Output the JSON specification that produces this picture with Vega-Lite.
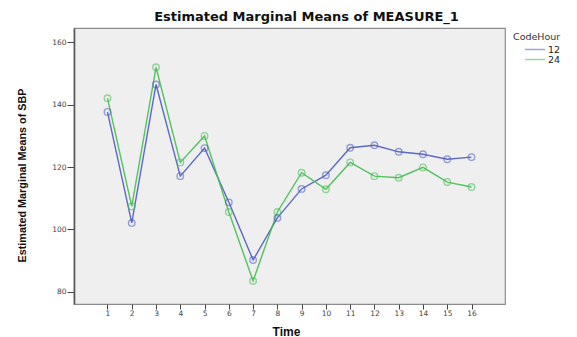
{
  "$schema": "https://vega.github.io/schema/vega-lite/v6.json",
  "width": 431,
  "height": 276,
  "autosize": {"type": "none"},
  "padding": {"left": 74, "top": 28, "right": 72, "bottom": 33},
  "background": "white",
  "config": {
    "view": {"fill": "#efefef", "stroke": "#8c8c8c", "strokeWidth": 1.2},
    "font": "Liberation Sans"
  },
  "title": {
    "text": "Estimated Marginal Means of MEASURE_1",
    "font": "DejaVu Sans",
    "fontSize": 13,
    "fontWeight": "bold",
    "color": "#111",
    "anchor": "middle",
    "frame": "group",
    "dx": 17,
    "offset": 4
  },
  "data": {
    "values": [
      {"Time": 1, "CodeHour": "12", "SBP": 137.7},
      {"Time": 2, "CodeHour": "12", "SBP": 102.1},
      {"Time": 3, "CodeHour": "12", "SBP": 146.5},
      {"Time": 4, "CodeHour": "12", "SBP": 117.1},
      {"Time": 5, "CodeHour": "12", "SBP": 126.1},
      {"Time": 6, "CodeHour": "12", "SBP": 108.7},
      {"Time": 7, "CodeHour": "12", "SBP": 90.2},
      {"Time": 8, "CodeHour": "12", "SBP": 103.7},
      {"Time": 9, "CodeHour": "12", "SBP": 113.0},
      {"Time": 10, "CodeHour": "12", "SBP": 117.4},
      {"Time": 11, "CodeHour": "12", "SBP": 126.2},
      {"Time": 12, "CodeHour": "12", "SBP": 127.0},
      {"Time": 13, "CodeHour": "12", "SBP": 124.9},
      {"Time": 14, "CodeHour": "12", "SBP": 124.1},
      {"Time": 15, "CodeHour": "12", "SBP": 122.5},
      {"Time": 16, "CodeHour": "12", "SBP": 123.2},
      {"Time": 1, "CodeHour": "24", "SBP": 142.1},
      {"Time": 2, "CodeHour": "24", "SBP": 107.4},
      {"Time": 3, "CodeHour": "24", "SBP": 152.0},
      {"Time": 4, "CodeHour": "24", "SBP": 121.5},
      {"Time": 5, "CodeHour": "24", "SBP": 130.0},
      {"Time": 6, "CodeHour": "24", "SBP": 105.6},
      {"Time": 7, "CodeHour": "24", "SBP": 83.5},
      {"Time": 8, "CodeHour": "24", "SBP": 105.6},
      {"Time": 9, "CodeHour": "24", "SBP": 118.2},
      {"Time": 10, "CodeHour": "24", "SBP": 112.9},
      {"Time": 11, "CodeHour": "24", "SBP": 121.5},
      {"Time": 12, "CodeHour": "24", "SBP": 117.1},
      {"Time": 13, "CodeHour": "24", "SBP": 116.6},
      {"Time": 14, "CodeHour": "24", "SBP": 119.9},
      {"Time": 15, "CodeHour": "24", "SBP": 115.2},
      {"Time": 16, "CodeHour": "24", "SBP": 113.6}
    ]
  },
  "encoding": {
    "x": {
      "field": "Time",
      "type": "quantitative",
      "scale": {"domain": [-0.38, 17.38], "nice": false, "zero": false},
      "axis": {
        "values": [1,2,3,4,5,6,7,8,9,10,11,12,13,14,15,16],
        "grid": false,
        "domain": false,
        "tickSize": 5,
        "tickColor": "#444",
        "labelFont": "DejaVu Sans",
        "labelFontSize": 7.5,
        "labelColor": "#444",
        "labelPadding": 0,
        "title": "Time",
        "titleFontSize": 12,
        "titleFontWeight": "bold",
        "titleColor": "#111",
        "titleX": 212,
        "titleY": 27,
        "titleBaseline": "middle",
        "titleAlign": "center"
      }
    },
    "y": {
      "field": "SBP",
      "type": "quantitative",
      "scale": {"domain": [76.1, 164.6], "nice": false, "zero": false},
      "axis": {
        "values": [80, 100, 120, 140, 160],
        "grid": false,
        "domain": true,
        "domainColor": "#555",
        "domainWidth": 1.6,
        "tickSize": 7,
        "tickColor": "#444",
        "labelFont": "DejaVu Sans",
        "labelFontSize": 7.5,
        "labelColor": "#444",
        "labelPadding": 1,
        "title": "Estimated Marginal Means of SBP",
        "titleFontSize": 10.8,
        "titleFontWeight": "bold",
        "titleColor": "#111",
        "titleAngle": -90,
        "titleX": -52,
        "titleY": 147,
        "titleBaseline": "middle",
        "titleAlign": "center"
      }
    },
    "color": {
      "field": "CodeHour",
      "type": "nominal",
      "scale": {"domain": ["12", "24"], "range": ["#4b5bc0", "#3fbf4f"]},
      "legend": {
        "orient": "none",
        "legendX": 439,
        "legendY": 4,
        "title": "CodeHour",
        "titleFont": "DejaVu Sans",
        "titleFontSize": 9.5,
        "titleFontWeight": "normal",
        "titleColor": "#333",
        "titlePadding": 3,
        "symbolType": "M-2.5,0H2.5",
        "symbolSize": 64,
        "symbolOffset": 17,
        "symbolStrokeWidth": 1.5,
        "symbolOpacity": 0.55,
        "labelFont": "DejaVu Sans",
        "labelFontSize": 9.5,
        "labelColor": "#222",
        "labelOffset": 8,
        "rowPadding": 0,
        "offset": 0,
        "padding": 0
      }
    }
  },
  "layer": [
    {"mark": {"type": "line", "strokeWidth": 1.4, "opacity": 0.9}},
    {"mark": {"type": "point", "filled": false, "size": 42, "strokeWidth": 1.4, "opacity": 0.55}}
  ]
}
